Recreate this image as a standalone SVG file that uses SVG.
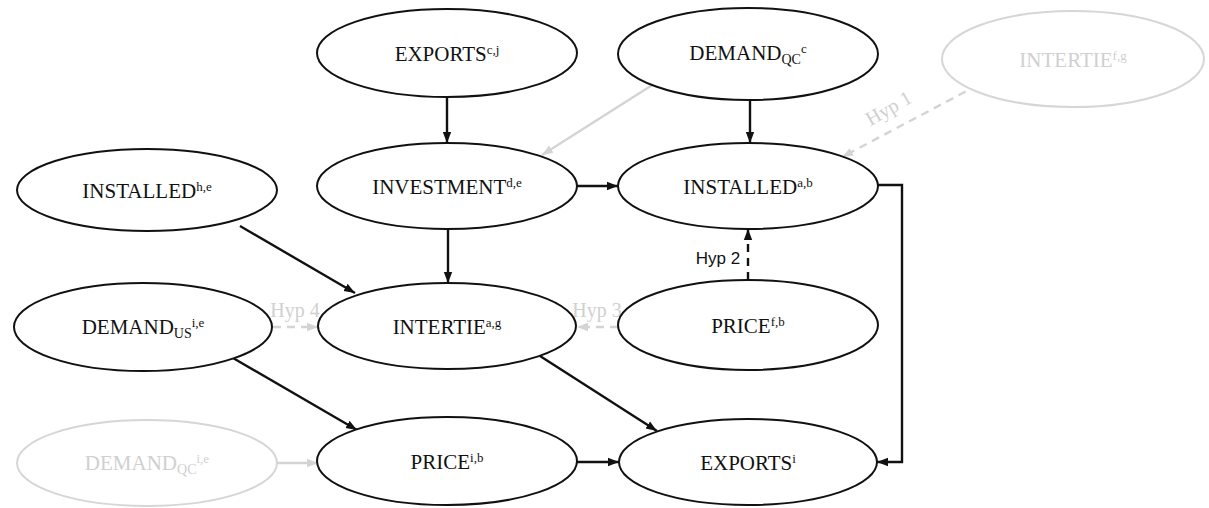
<svg xmlns="http://www.w3.org/2000/svg" width="1209" height="508" viewBox="0 0 1209 508">
<style>
.n{fill:#fff;stroke:#111;stroke-width:2}
.g{fill:#fff;stroke:#d6d6d6;stroke-width:2}
.t{font-family:"Liberation Serif","Times New Roman",serif;font-size:21px;fill:#111;text-anchor:middle}
.tg{font-family:"Liberation Serif","Times New Roman",serif;font-size:21px;fill:#d0d0d0;text-anchor:middle}
.sup{font-size:13px}
.sub{font-size:14px}
.c{fill:none;stroke:#111;stroke-width:2.4;marker-end:url(#ab)}
.cg{fill:none;stroke:#d4d4d4;stroke-width:2.4;marker-end:url(#ag)}
.d{stroke-dasharray:8 6}
.h{font-family:"Liberation Serif","Times New Roman",serif;font-size:20px;fill:#d0d0d0;text-anchor:middle}
.hb{font-family:"Liberation Sans",Arial,sans-serif;font-size:17px;fill:#111;text-anchor:middle}
</style>
<defs>
<marker id="ab" markerUnits="userSpaceOnUse" markerWidth="12" markerHeight="10" refX="11" refY="5" orient="auto"><path d="M0,0.8 L11,5 L0,9.2 Z" fill="#111"/></marker>
<marker id="ag" markerUnits="userSpaceOnUse" markerWidth="12" markerHeight="10" refX="11" refY="5" orient="auto"><path d="M0,0.8 L11,5 L0,9.2 Z" fill="#d4d4d4"/></marker>
</defs>
<rect width="1209" height="508" fill="#fff"/>
<g id="connectors">
<path class="c" d="M447,97 L447,143"/>
<path class="c" d="M750,100 L750,143"/>
<path class="cg" d="M657,82 L542,155"/>
<path class="cg d" d="M978,85 L842,157"/>
<path class="c" d="M577,186 L618,186"/>
<path class="c" d="M240,226 L355,293"/>
<path class="c" d="M448,229 L448,283"/>
<path class="c d" d="M748,280 L748,229"/>
<path class="cg d" d="M273,327 L318,327"/>
<path class="cg d" d="M618,327 L577,327"/>
<path class="c" d="M233,358 L357,430"/>
<path class="c" d="M540,356 L657,431"/>
<path class="cg" d="M277,463 L318,463"/>
<path class="c" d="M577,462 L619,462"/>
<path class="c" d="M877,185 L902,185 L902,462 L877,462"/>
<text class="h" transform="translate(892,114) rotate(-30)">Hyp 1</text>
<text class="hb" x="718" y="264">Hyp 2</text>
<text class="h" x="597" y="317">Hyp 3</text>
<text class="h" x="295" y="317">Hyp 4</text>
</g>
<g id="exports_cj"><ellipse class="n" cx="447" cy="53" rx="130" ry="44"/><text class="t" x="447" y="61">EXPORTS<tspan class="sup" dy="-7">c,j</tspan></text></g>
<g id="demand_qc_c"><ellipse class="n" cx="748" cy="54" rx="130" ry="46"/><text class="t" x="748" y="60">DEMAND<tspan class="sub" dy="4">QC</tspan><tspan class="sup" dy="-11">c</tspan></text></g>
<g id="intertie_fg"><ellipse class="g" cx="1073" cy="59" rx="131" ry="48"/><text class="tg" x="1073" y="67">INTERTIE<tspan class="sup" dy="-7">f,g</tspan></text></g>
<g id="installed_he"><ellipse class="n" cx="147" cy="190" rx="130" ry="41"/><text class="t" x="147" y="198">INSTALLED<tspan class="sup" dy="-7">h,e</tspan></text></g>
<g id="investment_de"><ellipse class="n" cx="447" cy="186" rx="130" ry="43"/><text class="t" x="447" y="194">INVESTMENT<tspan class="sup" dy="-7">d,e</tspan></text></g>
<g id="installed_ab"><ellipse class="n" cx="748" cy="186" rx="130" ry="43"/><text class="t" x="748" y="194">INSTALLED<tspan class="sup" dy="-7">a,b</tspan></text></g>
<g id="demand_us_ie"><ellipse class="n" cx="143" cy="327" rx="129" ry="44"/><text class="t" x="143" y="334">DEMAND<tspan class="sub" dy="4">US</tspan><tspan class="sup" dy="-11">i,e</tspan></text></g>
<g id="intertie_ag"><ellipse class="n" cx="447" cy="326" rx="129" ry="43"/><text class="t" x="447" y="334">INTERTIE<tspan class="sup" dy="-7">a,g</tspan></text></g>
<g id="price_fb"><ellipse class="n" cx="748" cy="325" rx="130" ry="45"/><text class="t" x="748" y="333">PRICE<tspan class="sup" dy="-7">f,b</tspan></text></g>
<g id="demand_qc_ie"><ellipse class="g" cx="147" cy="463" rx="130" ry="43"/><text class="tg" x="147" y="470">DEMAND<tspan class="sub" dy="4">QC</tspan><tspan class="sup" dy="-11">i,e</tspan></text></g>
<g id="price_ib"><ellipse class="n" cx="447" cy="461" rx="130" ry="44"/><text class="t" x="447" y="469">PRICE<tspan class="sup" dy="-7">i,b</tspan></text></g>
<g id="exports_i"><ellipse class="n" cx="748" cy="462" rx="129" ry="43"/><text class="t" x="748" y="470">EXPORTS<tspan class="sup" dy="-7">i</tspan></text></g>
</svg>
